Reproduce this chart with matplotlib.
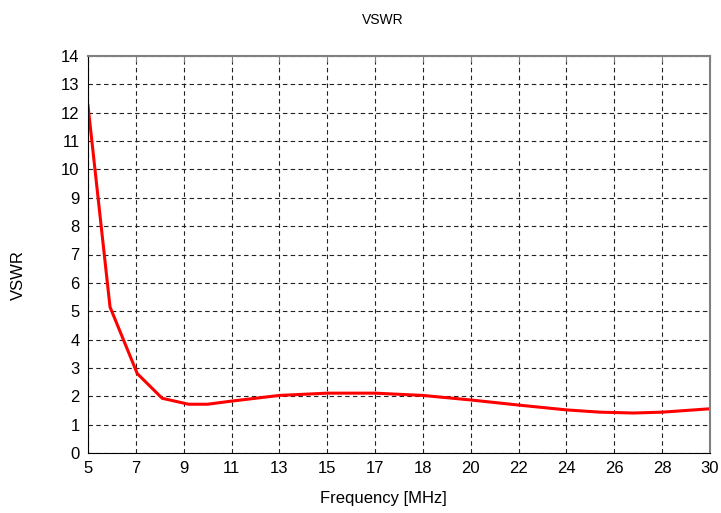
import numpy as np
import matplotlib
matplotlib.use("Agg")
import matplotlib.pyplot as plt

plt.rcParams['font.family'] = ['Liberation Sans', 'DejaVu Sans']

tick_freqs = [5, 7, 9, 11, 13, 15, 17, 18, 20, 22, 24, 26, 28, 30]
freq = [5, 5.92, 7.06, 8.1, 9.2, 10, 11, 13, 15, 17, 18, 20, 22, 24, 25.4, 26.8, 28, 30]
vswr = [12.25, 5.15, 2.8, 1.93, 1.72, 1.72, 1.83, 2.03, 2.11, 2.11, 2.03, 1.87, 1.69, 1.52, 1.44, 1.41, 1.44, 1.56]

idx = np.arange(len(tick_freqs), dtype=float)

# x axis: tick labels are evenly spaced even though 17 -> 18 is one step
def fwd(x):
    return np.interp(x, tick_freqs, idx, left=-1e9, right=1e9)

def inv(x):
    return np.interp(x, idx, tick_freqs)

fig = plt.figure(figsize=(7.21, 5.13), dpi=100)
ax = fig.add_axes([88/721, 60/513, 622/721, 397/513])
ax.set_xscale('function', functions=(fwd, inv))
ax.plot(freq, vswr, color='#ff0000', lw=2.2, solid_joinstyle='round')

ax.set_xlim(5, 30)
ax.set_ylim(0, 14)
ax.set_xticks(tick_freqs)
ax.set_xticklabels([str(f) for f in tick_freqs])
ax.set_yticks(range(0, 15))
ax.xaxis.set_minor_locator(matplotlib.ticker.NullLocator())
ax.tick_params(axis='both', length=0, labelsize=12, pad=6)
ax.tick_params(axis='x', top=True, direction='in', length=4, color='#808080', labeltop=False, bottom=False)
ax.grid(True, color='#222222', linestyle=(0, (4, 3)), linewidth=0.8)

for s in ['left', 'bottom']:
    ax.spines[s].set_color('black')
for s in ['top', 'right']:
    ax.spines[s].set_color('#808080')
    ax.spines[s].set_linewidth(1.5)

fig.text(383/721, 1 - 20/513, 'VSWR', ha='center', va='center', fontsize=10)
fig.text(383/721, 1 - 499/513, 'Frequency [MHz]', ha='center', va='center', fontsize=12)
fig.text(18/721, 1 - 275/513, 'VSWR', ha='center', va='center', rotation=90, fontsize=12)

fig.savefig('out.png', dpi=100)
